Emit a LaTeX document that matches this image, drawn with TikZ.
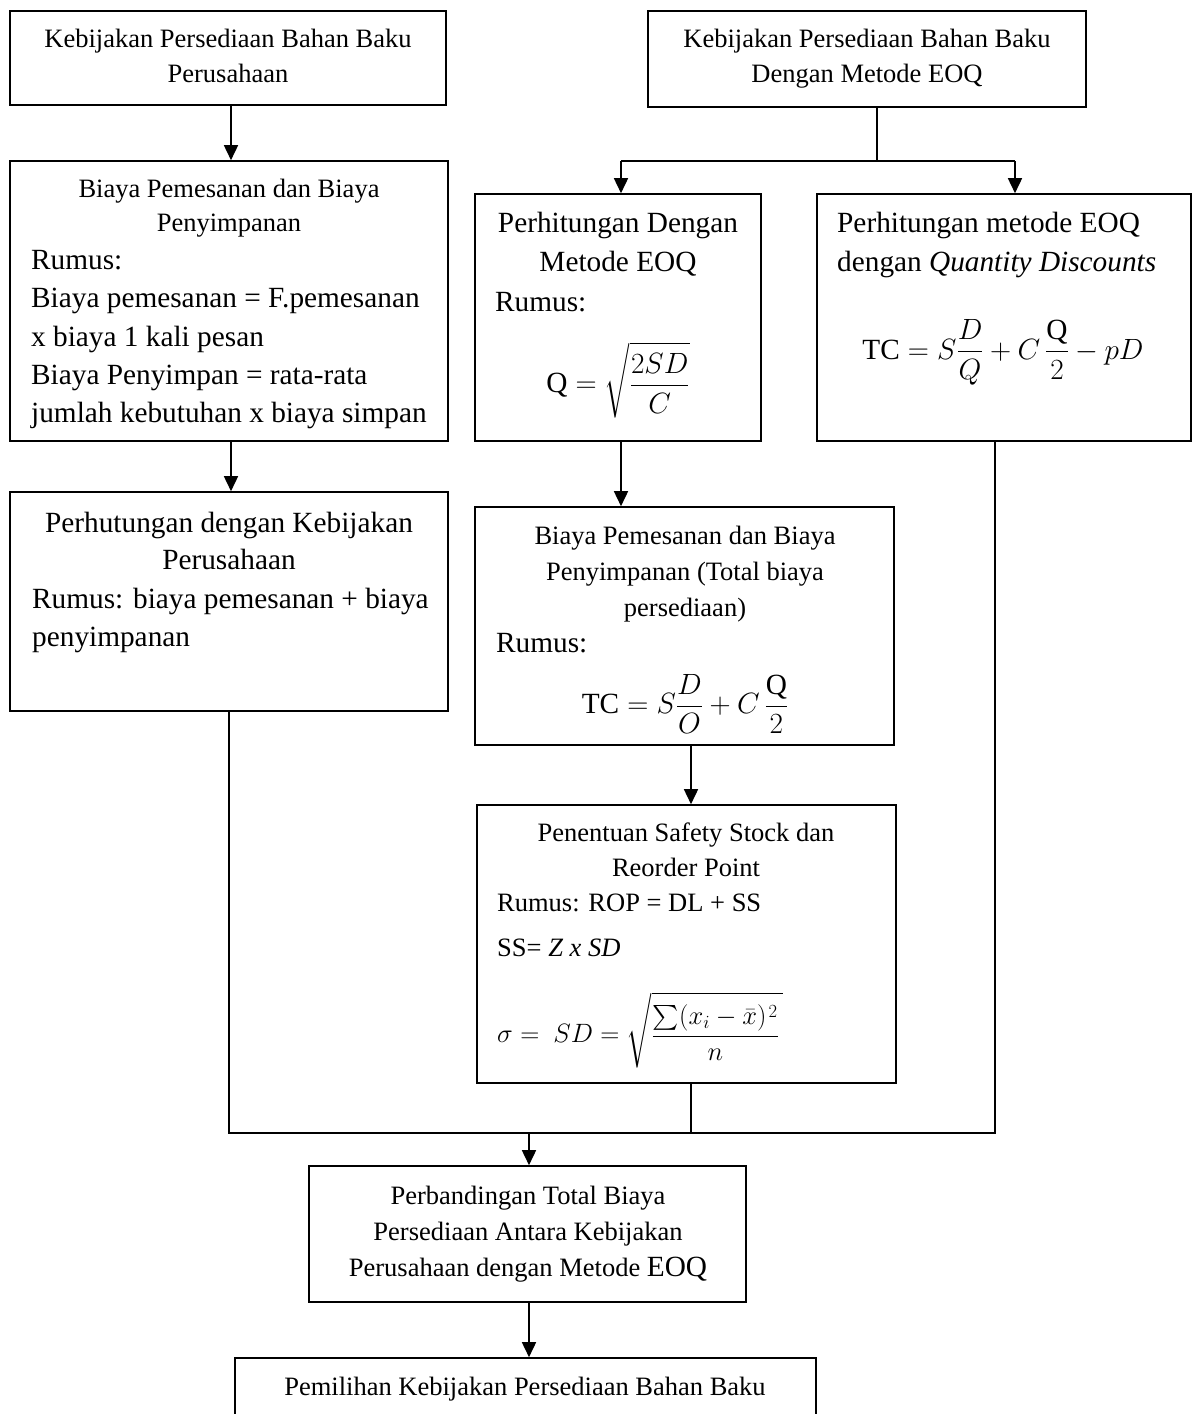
\RequirePackage{fix-cm}
\documentclass[tikz,border=0pt]{standalone}
\usepackage{amsmath}
\usepackage{fontspec}
\setmainfont{Liberation Serif}
\usetikzlibrary{arrows.meta}
\begin{document}
\begin{tikzpicture}[x=1pt,y=-1pt,
  box/.style={draw,line width=1.6pt,rectangle,inner sep=0pt},
  smm/.style={font=\fontsize{26.5}{34}\selectfont,inner sep=0pt},
  lgm/.style={font=\fontsize{29.3}{38}\selectfont,inner sep=0pt},
  sm/.style={smm,yshift=-7pt},
  lg/.style={lgm,yshift=-7pt},
  arr/.style={line width=1.6pt,-{Triangle[length=15pt,width=14pt]}},
  ln/.style={line width=1.6pt}]
\useasboundingbox (0,0) rectangle (1193,1414);
\clip (0,0) rectangle (1193,1414);
\fill[white] (0,0) rectangle (1193,1414);
% boxes
\node[box,minimum width=436pt,minimum height=94pt] (A) at (228,58) {};
\node[box,minimum width=438pt,minimum height=96pt] (B) at (867,59) {};
\node[box,minimum width=438pt,minimum height=280pt] (C) at (229,301) {};
\node[box,minimum width=286pt,minimum height=247pt] (D) at (618,317.5) {};
\node[box,minimum width=374pt,minimum height=247pt] (E) at (1004,317.5) {};
\node[box,minimum width=438pt,minimum height=219pt] (F) at (229,601.5) {};
\node[box,minimum width=419pt,minimum height=238pt] (G) at (684.5,626) {};
\node[box,minimum width=419pt,minimum height=278pt] (H) at (686.5,944) {};
\node[box,minimum width=437pt,minimum height=136pt] (I) at (527.5,1234) {};
\node[box,minimum width=581pt,minimum height=92pt] (J) at (525.5,1404) {};
% texts A
\node[sm,anchor=mid] (a1) at (228,38) {Kebijakan Persediaan Bahan Baku};
\node[sm,anchor=mid] (a2) at (228,73) {Perusahaan};
% B
\node[sm,anchor=mid] (b1) at (867,38) {Kebijakan Persediaan Bahan Baku};
\node[sm,anchor=mid] (b2) at (867,73) {Dengan Metode EOQ};
% C
\node[sm,anchor=mid] (c1) at (229,188) {Biaya Pemesanan dan Biaya};
\node[sm,anchor=mid] (c2) at (229,222) {Penyimpanan};
\node[lg,anchor=mid west] (c3) at (31,260) {Rumus:};
\node[lg,anchor=mid west] (c4) at (31,298) {Biaya pemesanan = F.pemesanan};
\node[lg,anchor=mid west] (c5) at (31,337) {x biaya 1 kali pesan};
\node[lg,anchor=mid west] (c6) at (31,375) {Biaya Penyimpan = rata-rata};
\node[lg,anchor=mid west] (c7) at (31,413) {jumlah kebutuhan x biaya simpan};
% D
\node[lg,anchor=mid] (d1) at (618,223) {Perhitungan Dengan};
\node[lg,anchor=mid] (d2) at (618,262) {Metode EOQ};
\node[lg,anchor=mid west] (d3) at (495,302) {Rumus:};
\node[lgm] (d4) at (618,380) {$\displaystyle \mathrm{Q} = \sqrt{\frac{2SD}{C}}$};
% E
\node[lg,anchor=mid west] (e1) at (837,223) {Perhitungan metode EOQ};
\node[lg,anchor=mid west] (e2) at (837,262) {dengan \textit{Quantity Discounts}};
\node[lgm] (e3) at (1003,352) {$\displaystyle \mathrm{TC} = S\frac{D}{Q} + C\,\frac{\mathrm{Q}}{2} - pD$};
% F
\node[lg,anchor=mid] (f1) at (229,523) {Perhutungan dengan Kebijakan};
\node[lg,anchor=mid] (f2) at (229,560) {Perusahaan};
\node[lg,anchor=mid west] (f3) at (32,599) {Rumus: biaya pemesanan + biaya};
\node[lg,anchor=mid west] (f4) at (32,637) {penyimpanan};
% G
\node[sm,anchor=mid] (g1) at (685,535) {Biaya Pemesanan dan Biaya};
\node[sm,anchor=mid] (g2) at (685,571) {Penyimpanan (Total biaya};
\node[sm,anchor=mid] (g3) at (685,607) {persediaan)};
\node[lg,anchor=mid west] (g4) at (496,643) {Rumus:};
\node[lgm] (g5) at (685,704) {$\displaystyle \mathrm{TC} = S\frac{D}{O} + C\,\frac{\mathrm{Q}}{2}$};
% H
\node[sm,anchor=mid] (h1) at (686,832) {Penentuan Safety Stock dan};
\node[sm,anchor=mid] (h2) at (686,867) {Reorder Point};
\node[sm,anchor=mid west] (h3) at (497,902) {Rumus: ROP = DL + SS};
\node[sm,anchor=mid west] (h4) at (497,947) {SS= \textit{Z x SD}};
\node[smm,anchor=west] (h5) at (497,1030) {$\displaystyle \sigma =\ SD = \sqrt{\frac{\sum(x_i-\bar{x})^{\mkern2mu 2}}{n}\,}$};
% I
\node[sm,anchor=mid] (i1) at (528,1195) {Perbandingan Total Biaya};
\node[sm,anchor=mid] (i2) at (528,1231) {Persediaan Antara Kebijakan};
\node[sm,anchor=mid] (i3) at (528,1267) {Perusahaan dengan Metode {\fontsize{29.3}{34}\selectfont EOQ}};
% J
\node[sm,anchor=mid] (j1) at (525,1386) {Pemilihan Kebijakan Persediaan Bahan Baku};
% connector coordinates
\coordinate (bs) at (877,161);
\coordinate (dl) at (621,161);
\coordinate (er) at (1015,161);
\coordinate (gx) at (691,0);
\coordinate (ex) at (995,0);
\coordinate (bar) at (0,1133);
\coordinate (ix) at (529,0);
\coordinate (ax) at (231,0);
% connectors
\draw[arr] (A.south -| ax) -- (C.north -| ax);
\draw[ln] (B.south -| bs) -- (bs);
\draw[ln] (dl) -- (er);
\draw[arr] (dl) -- (D.north -| dl);
\draw[arr] (er) -- (E.north -| er);
\draw[arr] (C.south -| ax) -- (F.north -| ax);
\draw[arr] (D.south -| dl) -- (G.north -| dl);
\draw[arr] (G.south -| gx) -- (H.north -| gx);
\draw[ln] (F.south) -- (F.south |- bar) -- (ex |- bar) -- (E.south -| ex);
\draw[ln] (H.south -| gx) -- (gx |- bar);
\draw[arr] (ix |- bar) -- (I.north -| ix);
\draw[arr] (I.south -| ix) -- (J.north -| ix);
\end{tikzpicture}
\end{document}
